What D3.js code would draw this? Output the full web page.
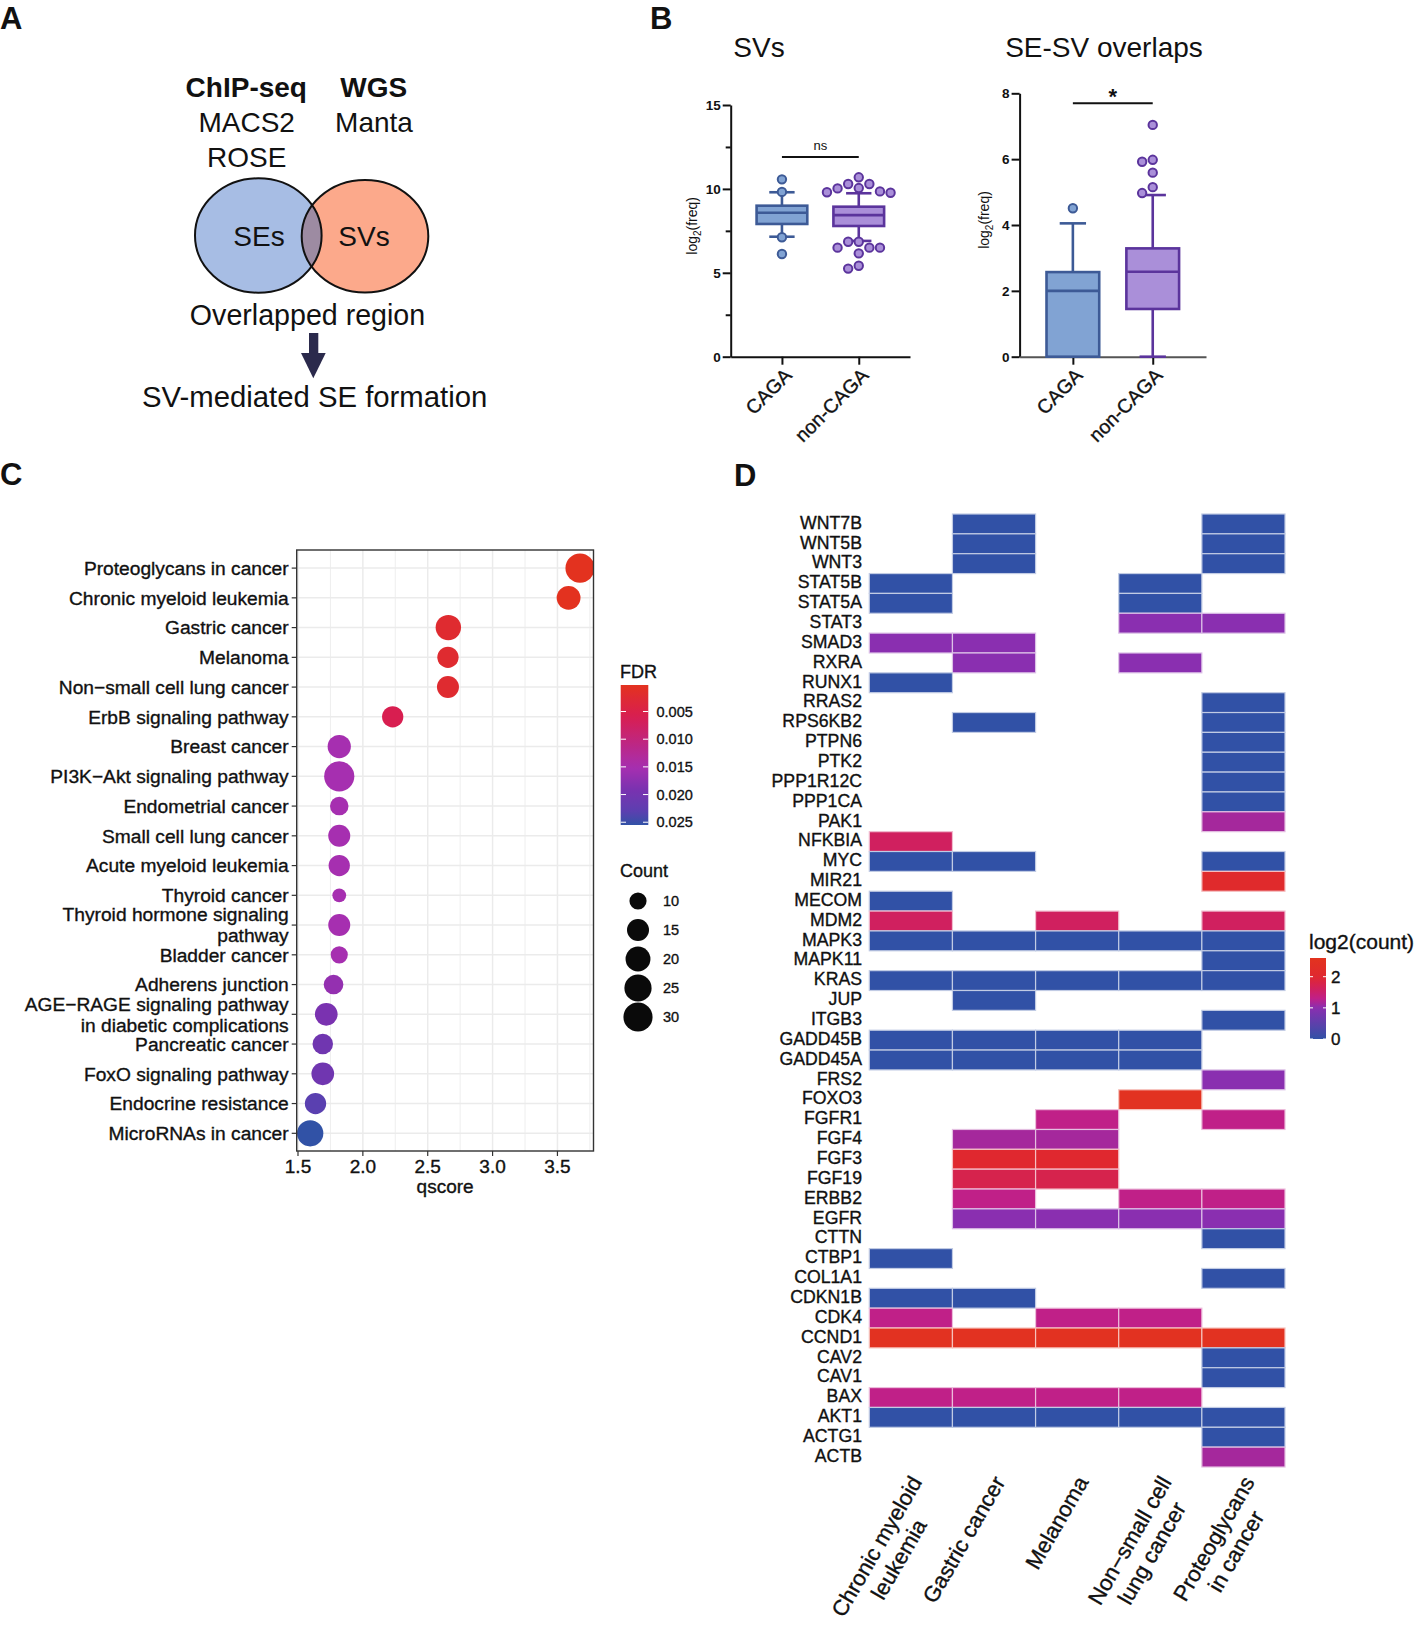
<!DOCTYPE html>
<html>
<head>
<meta charset="utf-8">
<script src="https://cdn.jsdelivr.net/npm/d3@7"></script>
<style>
  body { margin: 0; background: #fff; }
  svg { display: block; }
  text { font-family: "Liberation Sans", Arial, Helvetica, sans-serif; fill: #111; }
  .heavy { stroke: #111; stroke-width: 0.35px; }
</style>
</head>
<body>
<svg id="fig"></svg>
<script>
// ---------- Panel B data (log2 freq) ----------
const groups = ["CAGA", "non-CAGA"];
const svBoxes = [
  { q1: 7.91, median: 8.58, q3: 9.0, lo: 7.15, hi: 9.8 },
  { q1: 7.79, median: 8.44, q3: 8.94, lo: 6.9, hi: 9.74 }
];
const svPoints = [
  [10.57, 9.82, 7.12, 6.12],
  [10.69, 10.29, 10.29, 10.05, 10.03, 9.85, 9.8, 9.77, 6.85, 6.85, 6.5, 6.5, 6.5, 6.16, 5.42, 5.25]
];
const overlapBoxes = [
  { q1: 0, median: 2.0, q3: 2.57, lo: 0, hi: 4.05 },
  { q1: 1.45, median: 2.58, q3: 3.29, lo: 0, hi: 4.91 }
];
const overlapPoints = [
  [4.51],
  [7.04, 5.98, 5.92, 5.59, 5.15, 4.97]
];

// ---------- Panel C data (KEGG enrichment) ----------
const terms = [
  "Proteoglycans in cancer", "Chronic myeloid leukemia", "Gastric cancer", "Melanoma",
  "Non\u2212small cell lung cancer", "ErbB signaling pathway", "Breast cancer",
  "PI3K\u2212Akt signaling pathway", "Endometrial cancer", "Small cell lung cancer",
  "Acute myeloid leukemia", "Thyroid cancer", "Thyroid hormone signaling\npathway",
  "Bladder cancer", "Adherens junction",
  "AGE\u2212RAGE signaling pathway\nin diabetic complications", "Pancreatic cancer",
  "FoxO signaling pathway", "Endocrine resistance", "MicroRNAs in cancer"
];
const qscore = [3.674, 3.586, 2.659, 2.656, 2.656, 2.23, 1.818, 1.818, 1.818, 1.818,
                1.818, 1.818, 1.818, 1.818, 1.774, 1.718, 1.691, 1.691, 1.635, 1.594];
const fdr = [0.00021, 0.00026, 0.0022, 0.0022, 0.0022, 0.0059, 0.0152, 0.0152, 0.0152, 0.0152,
             0.0152, 0.0152, 0.0152, 0.0152, 0.0168, 0.0191, 0.0204, 0.0204, 0.0232, 0.0255];
const geneCount = [30, 18, 21, 14, 15, 14, 17, 33, 11, 15, 14, 9, 15, 10, 12, 16, 13, 16, 14, 23];
const fdrBreaks = [0.005, 0.010, 0.015, 0.020, 0.025];
const countBreaks = [10, 15, 20, 25, 30];

// ---------- Panel D data (log2 gene count per pathway, null = absent) ----------
const pathways = ["Chronic myeloid\nleukemia", "Gastric cancer", "Melanoma",
                  "Non\u2212small cell\nlung cancer", "Proteoglycans\nin cancer"];
const genes = ["WNT7B", "WNT5B", "WNT3", "STAT5B", "STAT5A", "STAT3", "SMAD3", "RXRA", "RUNX1",
  "RRAS2", "RPS6KB2", "PTPN6", "PTK2", "PPP1R12C", "PPP1CA", "PAK1", "NFKBIA", "MYC", "MIR21",
  "MECOM", "MDM2", "MAPK3", "MAPK11", "KRAS", "JUP", "ITGB3", "GADD45B", "GADD45A", "FRS2",
  "FOXO3", "FGFR1", "FGF4", "FGF3", "FGF19", "ERBB2", "EGFR", "CTTN", "CTBP1", "COL1A1",
  "CDKN1B", "CDK4", "CCND1", "CAV2", "CAV1", "BAX", "AKT1", "ACTG1", "ACTB"];
const _ = null;
const log2Count = [
  [_, 0, _, _, 0],          // WNT7B
  [_, 0, _, _, 0],          // WNT5B
  [_, 0, _, _, 0],          // WNT3
  [0, _, _, 0, _],          // STAT5B
  [0, _, _, 0, _],          // STAT5A
  [_, _, _, 1, 1],          // STAT3
  [1, 1, _, _, _],          // SMAD3
  [_, 1, _, 1, _],          // RXRA
  [0, _, _, _, _],          // RUNX1
  [_, _, _, _, 0],          // RRAS2
  [_, 0, _, _, 0],          // RPS6KB2
  [_, _, _, _, 0],          // PTPN6
  [_, _, _, _, 0],          // PTK2
  [_, _, _, _, 0],          // PPP1R12C
  [_, _, _, _, 0],          // PPP1CA
  [_, _, _, _, 1.15],       // PAK1
  [1.6, _, _, _, _],        // NFKBIA
  [0, 0, _, _, 0],          // MYC
  [_, _, _, _, 2.1],        // MIR21
  [0, _, _, _, _],          // MECOM
  [1.6, _, 1.6, _, 1.6],    // MDM2
  [0, 0, 0, 0, 0],          // MAPK3
  [_, _, _, _, 0],          // MAPK11
  [0, 0, 0, 0, 0],          // KRAS
  [_, 0, _, _, _],          // JUP
  [_, _, _, _, 0],          // ITGB3
  [0, 0, 0, 0, _],          // GADD45B
  [0, 0, 0, 0, _],          // GADD45A
  [_, _, _, _, 1],          // FRS2
  [_, _, _, 2.5, _],        // FOXO3
  [_, _, 1.3, _, 1.3],      // FGFR1
  [_, 1.15, 1.15, _, _],    // FGF4
  [_, 2.0, 2.0, _, _],      // FGF3
  [_, 1.75, 1.75, _, _],    // FGF19
  [_, 1.3, _, 1.3, 1.3],    // ERBB2
  [_, 1, 1, 1, 1],          // EGFR
  [_, _, _, _, 0],          // CTTN
  [0, _, _, _, _],          // CTBP1
  [_, _, _, _, 0],          // COL1A1
  [0, 0, _, _, _],          // CDKN1B
  [1.3, _, 1.3, 1.3, _],    // CDK4
  [2.5, 2.5, 2.5, 2.5, 2.5],// CCND1
  [_, _, _, _, 0],          // CAV2
  [_, _, _, _, 0],          // CAV1
  [1.3, 1.3, 1.3, 1.3, _],  // BAX
  [0, 0, 0, 0, 0],          // AKT1
  [_, _, _, _, 0],          // ACTG1
  [_, _, _, _, 1.15]        // ACTB
];
const countTicks = [0, 1, 2];

// ---------- setup ----------
const W = 1417, H = 1626;
const svg = d3.select("#fig").attr("width", W).attr("height", H);
const FONT = '"Liberation Sans", Arial, Helvetica, sans-serif';

// panel letters
[["A", 0, 29], ["B", 650, 29], ["C", 0, 485], ["D", 734, 486]].forEach(([l, x, y]) =>
  svg.append("text").attr("x", x).attr("y", y).attr("font-size", 31)
    .attr("font-weight", "bold").text(l));

// ================= Panel A: Venn diagram =================
const gA = svg.append("g");
const venL = { cx: 258.3, cy: 235.5, rx: 63.3, ry: 57.2 };
const venR = { cx: 365, cy: 236.3, rx: 63.3, ry: 56.3 };
const defs = svg.append("defs");
defs.append("clipPath").attr("id", "clipL").append("ellipse").attr("cx", venL.cx)
  .attr("cy", venL.cy).attr("rx", venL.rx).attr("ry", venL.ry);
gA.append("ellipse").attr("cx", venL.cx).attr("cy", venL.cy).attr("rx", venL.rx)
  .attr("ry", venL.ry).attr("fill", "#a7bde4");
gA.append("ellipse").attr("cx", venR.cx).attr("cy", venR.cy).attr("rx", venR.rx)
  .attr("ry", venR.ry).attr("fill", "#fca98b");
gA.append("ellipse").attr("cx", venR.cx).attr("cy", venR.cy).attr("rx", venR.rx)
  .attr("ry", venR.ry).attr("fill", "#9d8ba2").attr("clip-path", "url(#clipL)");
[venL, venR].forEach(e => gA.append("ellipse").attr("cx", e.cx).attr("cy", e.cy)
  .attr("rx", e.rx).attr("ry", e.ry).attr("fill", "none").attr("stroke", "#111")
  .attr("stroke-width", 2));

const aTexts = [
  ["ChIP-seq", 246.3, 96.7, "bold", 28], ["WGS", 373.7, 96.7, "bold", 28],
  ["MACS2", 246.7, 131.7, "normal", 28], ["Manta", 374, 131.7, "normal", 28],
  ["ROSE", 246.7, 166.7, "normal", 28], ["SEs", 259, 245.5, "normal", 28],
  ["SVs", 364, 245.5, "normal", 28], ["Overlapped region", 307.5, 325, "normal", 28.6],
  ["SV-mediated SE formation", 314.7, 407, "normal", 29.3]
];
aTexts.forEach(([t, x, y, w, fs]) => gA.append("text").attr("x", x).attr("y", y)
  .attr("text-anchor", "middle").attr("font-size", fs).attr("font-weight", w).text(t));
// arrow
gA.append("rect").attr("x", 309).attr("y", 333).attr("width", 9.3).attr("height", 21)
  .attr("fill", "#2b2a4c");
gA.append("path").attr("d", "M301,353 L325.7,353 L313.3,378.3 Z").attr("fill", "#2b2a4c");

// ================= Panel B: box plots =================
const boxFill = ["#81a3d3", "#aa8fd9"];
const boxStroke = ["#3d5a96", "#5b349c"];

function boxPanel(opt) {
  const g = svg.append("g");
  const x = d3.scalePoint(groups, opt.xRange).padding(0.667);
  const y = d3.scaleLinear(opt.yDomain, opt.yRange);
  const step = x.step(), bw = step * 0.66;

  // title
  g.append("text").attr("x", opt.titleX).attr("y", 57).attr("text-anchor", "middle")
    .attr("font-size", 28).text(opt.title);

  // y axis
  const ya = g.append("g").attr("transform", `translate(${opt.xRange[0]},0)`)
    .call(d3.axisLeft(y).tickValues(opt.ticks).tickSize(8).tickPadding(2).tickSizeOuter(0));
  ya.select(".domain").attr("stroke", "#111").attr("stroke-width", 2);
  ya.selectAll(".tick line").attr("stroke", "#111").attr("stroke-width", 2);
  ya.selectAll(".tick text").attr("font-size", 13.5).attr("font-weight", "bold")
    .attr("font-family", FONT).attr("fill", "#111");
  if (opt.minor.length) {
    const ym = g.append("g").attr("transform", `translate(${opt.xRange[0]},0)`)
      .call(d3.axisLeft(y).tickValues(opt.minor).tickSize(5).tickFormat(""));
    ym.select(".domain").remove();
    ym.selectAll(".tick line").attr("stroke", "#111").attr("stroke-width", 2);
  }
  // y label with subscript
  const yl = g.append("text")
    .attr("transform", `translate(${opt.yLabelX},${(opt.yRange[0] + opt.yRange[1]) / 2 - 5}) rotate(-90)`)
    .attr("text-anchor", "middle").attr("font-size", 14);
  yl.append("tspan").text("log");
  yl.append("tspan").attr("font-size", 10).attr("dy", 4).text("2");
  yl.append("tspan").attr("dy", -4).text("(freq)");

  // x axis
  const xa = g.append("g").attr("transform", `translate(0,${opt.yRange[0]})`)
    .call(d3.axisBottom(x).tickSize(8).tickSizeOuter(0).tickFormat(""));
  xa.select(".domain").attr("stroke", opt.xAxisColor).attr("stroke-width", 2);
  xa.selectAll(".tick line").attr("stroke", "#111").attr("stroke-width", 2);
  g.selectAll("text.xl").data(groups).join("text").attr("class", "xl heavy")
    .attr("transform", d => `translate(${x(d) + 1},${opt.yRange[0] + 10}) rotate(-45)`)
    .attr("text-anchor", "end").attr("dy", "0.72em").attr("font-size", 19.5).text(d => d);

  // boxes
  opt.boxes.forEach((b, i) => {
    const cx = x(groups[i]);
    const gb = g.append("g").attr("stroke", boxStroke[i]).attr("stroke-width", 2.6);
    gb.append("line").attr("x1", cx).attr("x2", cx).attr("y1", y(b.hi)).attr("y2", y(b.q3));
    gb.append("line").attr("x1", cx).attr("x2", cx).attr("y1", y(b.q1)).attr("y2", y(b.lo));
    gb.append("line").attr("x1", cx - bw / 4).attr("x2", cx + bw / 4)
      .attr("y1", y(b.hi)).attr("y2", y(b.hi));
    if (b.lo < b.q1)
      gb.append("line").attr("x1", cx - bw / 4).attr("x2", cx + bw / 4)
        .attr("y1", y(b.lo)).attr("y2", y(b.lo));
    gb.append("rect").attr("x", cx - bw / 2).attr("width", bw).attr("y", y(b.q3))
      .attr("height", y(b.q1) - y(b.q3)).attr("fill", boxFill[i]);
    gb.append("line").attr("x1", cx - bw / 2).attr("x2", cx + bw / 2)
      .attr("y1", y(b.median)).attr("y2", y(b.median));

    // points: simple deterministic swarm placement
    const r = 4.2, minD = 10.4, stepX = 10.6;
    const placed = [];
    opt.points[i].slice().sort((a, b2) => b2 - a).forEach(v => {
      const py = y(v);
      for (let k = 0; k < 12; k++) {
        const off = (k % 2 ? -1 : 1) * Math.ceil(k / 2) * stepX;
        if (placed.every(p => Math.hypot(p.x - off, p.y - py) >= minD)) {
          placed.push({ x: off, y: py });
          break;
        }
      }
    });
    g.append("g").selectAll("circle").data(placed).join("circle")
      .attr("cx", p => cx + p.x).attr("cy", p => p.y).attr("r", r)
      .attr("fill", boxFill[i]).attr("stroke", boxStroke[i]).attr("stroke-width", 2);
  });

  // significance bar
  const sy = y(opt.sig.y);
  g.append("line").attr("x1", x(groups[0])).attr("x2", x(groups[1])).attr("y1", sy).attr("y2", sy)
    .attr("stroke", "#111").attr("stroke-width", 2);
  g.append("text").attr("x", (x(groups[0]) + x(groups[1])) / 2).attr("y", sy + opt.sig.dy)
    .attr("text-anchor", "middle").attr("font-size", opt.sig.size)
    .attr("font-weight", opt.sig.weight).text(opt.sig.label);
}

boxPanel({
  title: "SVs", titleX: 759, xRange: [730.7, 910], yDomain: [0, 15], yRange: [356.7, 105],
  ticks: [0, 5, 10, 15], minor: [2.5, 7.5, 12.5], yLabelX: 697, xAxisColor: "#111",
  boxes: svBoxes, points: svPoints,
  sig: { y: 11.9, label: "ns", dy: -7, size: 13, weight: "normal" }
});
boxPanel({
  title: "SE-SV overlaps", titleX: 1104, xRange: [1019.6, 1206], yDomain: [0, 8], yRange: [356.7, 93.3],
  ticks: [0, 2, 4, 6, 8], minor: [], yLabelX: 989, xAxisColor: "#555",
  boxes: overlapBoxes, points: overlapPoints,
  sig: { y: 7.7, label: "*", dy: 1, size: 22, weight: "bold" }
});

// ================= Panel C: enrichment dot plot =================
const gC = svg.append("g");
const pL = 296.7, pR = 593.5, pT = 550, pB = 1151;
const qExt = d3.extent(qscore), qPad = (qExt[1] - qExt[0]) * 0.05;
const xC = d3.scaleLinear([qExt[0] - qPad, qExt[1] + qPad], [pL, pR]);
const yC = d3.scalePoint(terms, [568.1, 1133.3]);
const fdrColor = d3.scaleLinear()
  .domain([0.00021, 0.0059, 0.0152, 0.0191, 0.0232, 0.0255])
  .range(["#e3321f", "#d81e50", "#a62fb0", "#7a32b0", "#5a40b0", "#3152a6"]);
const cExt = d3.extent(geneCount);
const areaC = d3.scaleSqrt([0, cExt[1] - cExt[0]], [0, 16.4]);
const diamC = c => 13.8 + areaC(c - cExt[0]);

defs.append("clipPath").attr("id", "clipC").append("rect")
  .attr("x", pL).attr("y", pT).attr("width", pR - pL).attr("height", pB - pT);

// grid
const minorX = d3.range(1.75, 3.8, 0.5);
gC.append("g").selectAll("line").data(minorX).join("line")
  .attr("x1", d => xC(d)).attr("x2", d => xC(d)).attr("y1", pT).attr("y2", pB)
  .attr("stroke", "#ececec").attr("stroke-width", 0.9);
const majorX = [1.5, 2.0, 2.5, 3.0, 3.5];
gC.append("g").selectAll("line").data(majorX).join("line")
  .attr("x1", d => xC(d)).attr("x2", d => xC(d)).attr("y1", pT).attr("y2", pB)
  .attr("stroke", "#ebebeb").attr("stroke-width", 1.5);
gC.append("g").selectAll("line").data(terms).join("line")
  .attr("x1", pL).attr("x2", pR).attr("y1", d => yC(d)).attr("y2", d => yC(d))
  .attr("stroke", "#ebebeb").attr("stroke-width", 1.5);

// dots
gC.append("g").attr("clip-path", "url(#clipC)").selectAll("circle").data(terms).join("circle")
  .attr("cx", (d, i) => xC(qscore[i])).attr("cy", d => yC(d))
  .attr("r", (d, i) => diamC(geneCount[i]) / 2)
  .attr("fill", (d, i) => fdrColor(fdr[i]));

gC.append("rect").attr("x", pL).attr("y", pT).attr("width", pR - pL).attr("height", pB - pT)
  .attr("fill", "none").attr("stroke", "#333").attr("stroke-width", 1.4);

// y axis ticks + labels
gC.append("g").selectAll("line").data(terms).join("line")
  .attr("x1", pL - 5).attr("x2", pL).attr("y1", d => yC(d)).attr("y2", d => yC(d))
  .attr("stroke", "#333").attr("stroke-width", 1.2);
gC.selectAll("text.yl").data(terms).join("text").attr("class", "yl heavy")
  .attr("text-anchor", "end").attr("font-size", 19.2).attr("x", pL - 8)
  .each(function (d) {
    const lines = d.split("\n");
    d3.select(this).selectAll("tspan").data(lines).join("tspan")
      .attr("x", pL - 8)
      .attr("y", (l, i) => yC(d) + 6.8 + (i - (lines.length - 1) / 2) * 21)
      .text(l => l);
  });

// x axis
gC.append("g").selectAll("line").data(majorX).join("line")
  .attr("x1", d => xC(d)).attr("x2", d => xC(d)).attr("y1", pB).attr("y2", pB + 5)
  .attr("stroke", "#333").attr("stroke-width", 1.2);
gC.append("g").selectAll("text").data(majorX).join("text").attr("class", "heavy")
  .attr("x", d => xC(d)).attr("y", 1173).attr("text-anchor", "middle").attr("font-size", 19)
  .text(d => d3.format(".1f")(d));
gC.append("text").attr("class", "heavy").attr("x", (pL + pR) / 2).attr("y", 1193)
  .attr("text-anchor", "middle").attr("font-size", 19).text("qscore");

// FDR colour bar
const fdrBarY = d3.scaleLinear(d3.extent(fdr), [685, 825]);
const gradC = defs.append("linearGradient").attr("id", "gradFDR")
  .attr("x1", 0).attr("x2", 0).attr("y1", 0).attr("y2", 1);
d3.range(0, 1.0001, 0.05).forEach(t => gradC.append("stop").attr("offset", t)
  .attr("stop-color", fdrColor(fdrBarY.invert(685 + t * 140))));
gC.append("text").attr("class", "heavy").attr("x", 620).attr("y", 678).attr("font-size", 18).text("FDR");
gC.append("rect").attr("x", 620.7).attr("y", 685).attr("width", 27.6).attr("height", 140)
  .attr("fill", "url(#gradFDR)");
fdrBreaks.forEach(b => {
  const yy = fdrBarY(b);
  gC.append("line").attr("x1", 620.7).attr("x2", 626).attr("y1", yy).attr("y2", yy)
    .attr("stroke", "#fff").attr("stroke-width", 1);
  gC.append("line").attr("x1", 643).attr("x2", 648.3).attr("y1", yy).attr("y2", yy)
    .attr("stroke", "#fff").attr("stroke-width", 1);
  gC.append("text").attr("class", "heavy").attr("x", 656.5).attr("y", yy + 5).attr("font-size", 14.5)
    .text(d3.format(".3f")(b));
});

// Count legend
gC.append("text").attr("class", "heavy").attr("x", 620).attr("y", 877).attr("font-size", 18).text("Count");
countBreaks.forEach((c, i) => {
  const yy = 901 + i * 29;
  gC.append("circle").attr("cx", 638).attr("cy", yy).attr("r", diamC(c) / 2).attr("fill", "#0a0a0a");
  gC.append("text").attr("class", "heavy").attr("x", 663).attr("y", yy + 5).attr("font-size", 14.5).text(c);
});

// ================= Panel D: heatmap =================
const gD = svg.append("g");
const xD = d3.scaleBand(pathways, [869.3, 1285]);
const yD = d3.scaleBand(genes, [514, 1467]);
const heatColor = d3.scaleLinear()
  .domain([0, 1, 1.3, 1.6, 2, 2.6])
  .range(["#3151a6", "#8a2fb0", "#c02088", "#d0205f", "#e0282f", "#e2341e"]);

const cells = [];
genes.forEach((g, i) => pathways.forEach((p, j) => {
  if (log2Count[i][j] !== null) cells.push({ g, p, v: log2Count[i][j] });
}));
gD.append("g").selectAll("rect").data(cells).join("rect")
  .attr("x", d => xD(d.p)).attr("y", d => yD(d.g))
  .attr("width", xD.bandwidth()).attr("height", yD.bandwidth())
  .attr("fill", d => heatColor(d.v))
  .attr("stroke", d => d3.interpolateRgb(heatColor(d.v), "#fff")(0.7))
  .attr("stroke-width", 1.2);

gD.append("g").selectAll("text").data(genes).join("text").attr("class", "heavy")
  .attr("x", 862).attr("y", d => yD(d) + yD.bandwidth() / 2).attr("dy", "0.27em")
  .attr("text-anchor", "end").attr("font-size", 17.7).text(d => d);

// rotated pathway labels, multi-line centred
const xl = gD.selectAll("g.xlab").data(pathways).join("g").attr("class", "xlab")
  .attr("transform", d => `translate(${xD(d) + xD.bandwidth() / 2 - 2},1474) rotate(-60)`);
xl.each(function (d) {
  const lines = d.split("\n");
  const t = d3.select(this).selectAll("text").data(lines).join("text").attr("class", "heavy")
    .attr("font-size", 22).attr("text-anchor", "middle").text(l => l);
  const w = d3.max(t.nodes(), n => n.getComputedTextLength());
  t.attr("x", -w / 2).attr("y", (l, i) => 16 + i * 25.5);
});

// log2(count) legend
const cntY = d3.scaleLinear([0, 2.6], [1039, 958]);
const gradD = defs.append("linearGradient").attr("id", "gradCnt")
  .attr("x1", 0).attr("x2", 0).attr("y1", 1).attr("y2", 0);
d3.range(0, 1.0001, 0.05).forEach(t => gradD.append("stop").attr("offset", t)
  .attr("stop-color", heatColor(t * 2.6)));
gD.append("text").attr("class", "heavy").attr("x", 1309).attr("y", 949).attr("font-size", 21)
  .text("log2(count)");
gD.append("rect").attr("x", 1310).attr("y", 958).attr("width", 16).attr("height", 81)
  .attr("fill", "url(#gradCnt)");
countTicks.forEach(v => {
  const yy = cntY(v);
  gD.append("line").attr("x1", 1310).attr("x2", 1313).attr("y1", yy).attr("y2", yy)
    .attr("stroke", "#fff").attr("stroke-width", 1);
  gD.append("line").attr("x1", 1323).attr("x2", 1326).attr("y1", yy).attr("y2", yy)
    .attr("stroke", "#fff").attr("stroke-width", 1);
  gD.append("text").attr("class", "heavy").attr("x", 1331).attr("y", yy + 6).attr("font-size", 17).text(v);
});
</script>
</body>
</html>
